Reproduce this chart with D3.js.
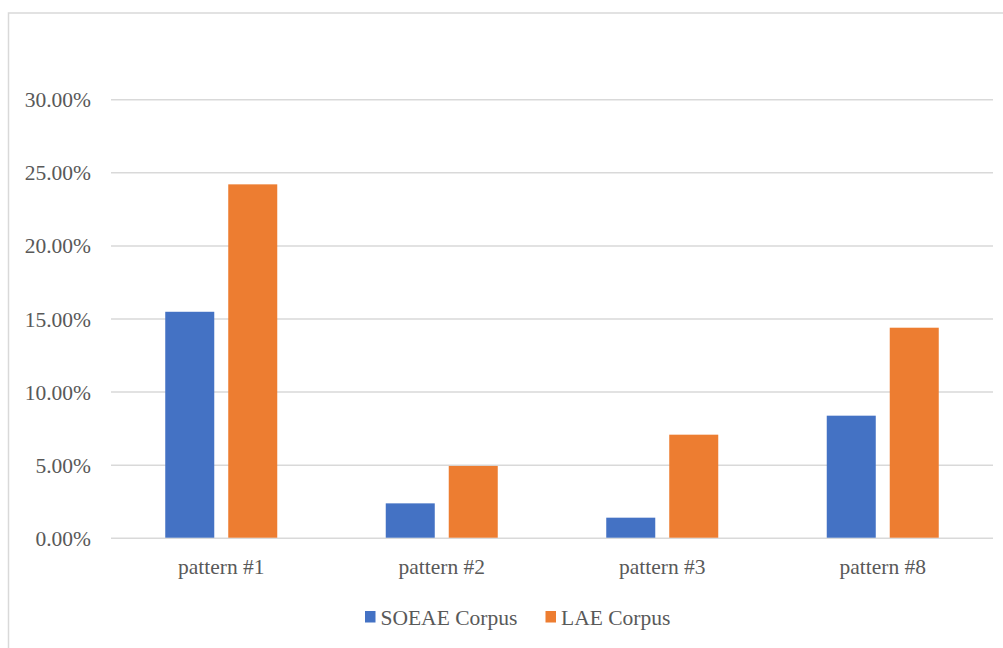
<!DOCTYPE html>
<html>
<head>
<meta charset="utf-8">
<script src="https://cdn.jsdelivr.net/npm/d3@7"></script>
<style>
  html, body { margin: 0; padding: 0; background: #fff; }
  svg { display: block; }
  svg text { font-family: "Times New Roman", "Liberation Serif", Tinos, "DejaVu Serif", serif !important; fill: #595959; }
</style>
</head>
<body>
<svg id="chart" width="1003" height="648"></svg>
<script>
const categories = ["pattern #1", "pattern #2", "pattern #3", "pattern #8"];
const seriesNames = ["SOEAE Corpus", "LAE Corpus"];
const soeaeValues = [0.1546, 0.0235, 0.0137, 0.0835];
const laeValues = [0.2418, 0.0491, 0.0705, 0.1437];
const yTicks = [0, 0.05, 0.10, 0.15, 0.20, 0.25, 0.30];
const colors = ["#4472C4", "#ED7D31"];

const svg = d3.select("#chart");
const W = 1003, H = 648;
const plot = { left: 111, right: 993, top: 99.3, bottom: 537.7 };
const fs = "21.5px";

// outer border
svg.append("rect")
  .attr("x", 8.5).attr("y", 13)
  .attr("width", W + 20).attr("height", H + 20)
  .attr("fill", "none").attr("stroke", "#d9d9d9").attr("stroke-width", 1.5);

const y = d3.scaleLinear().domain([0, 0.30]).range([plot.bottom, plot.top]);
const x0 = d3.scaleBand().domain(categories).range([plot.left, plot.right]).padding(0);
const groupW = 112;
const outer = (x0.bandwidth() - groupW) / 2;
const x1 = d3.scaleBand().domain(seriesNames).range([outer, outer + groupW]).paddingInner(0.222).paddingOuter(0);

// gridlines
const yAxis = d3.axisLeft(y).tickValues(yTicks).tickSize(-(plot.right - plot.left)).tickPadding(20)
  .tickFormat(d => (d * 100).toFixed(2) + "%");
const gy = svg.append("g").attr("transform", `translate(${plot.left},0)`).call(yAxis);
gy.attr("font-family", null).attr("font-size", null);
gy.select(".domain").remove();
gy.selectAll(".tick line").attr("stroke", "#d9d9d9").attr("stroke-width", 1.5);
gy.selectAll(".tick text")
  .attr("x", 91 - plot.left)
  .attr("dy", "0.35em")
  .style("font-size", fs)
  .attr("fill", "#595959");

// bars
const data = categories.map((c, i) => ({ cat: c, vals: [soeaeValues[i], laeValues[i]] }));
const groups = svg.append("g").selectAll("g").data(data).join("g")
  .attr("transform", d => `translate(${x0(d.cat)},0)`);
groups.selectAll("rect").data(d => d.vals.map((v, j) => ({ s: seriesNames[j], v, j })))
  .join("rect")
  .attr("x", d => x1(d.s))
  .attr("width", x1.bandwidth())
  .attr("y", d => y(d.v))
  .attr("height", d => y(0) - y(d.v))
  .attr("fill", d => colors[d.j]);

// x axis labels
const xAxis = d3.axisBottom(x0).tickSize(0).tickPadding(0);
const gx = svg.append("g").attr("transform", `translate(0,${plot.bottom})`).call(xAxis);
gx.attr("font-family", null).attr("font-size", null);
gx.select(".domain").remove();
gx.selectAll(".tick text")
  .attr("y", 36).attr("dy", 0)
  .style("font-size", fs)
  .attr("fill", "#595959");

// legend
const legendX = [365, 545.5];
const leg = svg.append("g").selectAll("g").data(seriesNames).join("g")
  .attr("transform", (d, i) => `translate(${legendX[i]},611)`);
leg.append("rect").attr("width", 10.5).attr("height", 11.5).attr("fill", (d, i) => colors[i]);
leg.append("text").attr("x", 15.5).attr("y", 14).text(d => d)
  .style("font-size", fs);
</script>
</body>
</html>
